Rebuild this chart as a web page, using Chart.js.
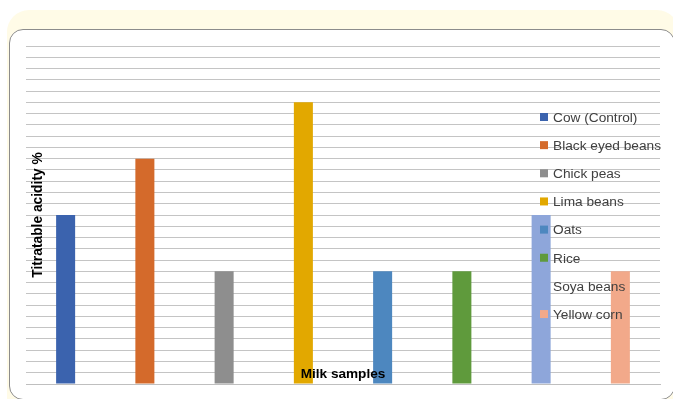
<!DOCTYPE html>
<html>
<head>
<meta charset="utf-8">
<script src="https://cdn.jsdelivr.net/npm/chart.js@4/dist/chart.umd.min.js"></script>
<style>
  html, body { margin: 0; padding: 0; background: #ffffff; width: 673px; height: 399px; overflow: hidden; }
  #cream { position: absolute; left: 7px; top: 10px; width: 672px; height: 420px; background: #fffbe7; border-radius: 22px; }
  #frame { position: absolute; left: 9px; top: 29px; width: 664px; height: 369px; background: #ffffff; border: 1px solid #8c8c8c; border-radius: 14px; }
  #wrap { position: absolute; left: 0; top: 0; width: 673px; height: 399px; }
</style>
</head>
<body>
<div id="cream"></div>
<div id="frame"></div>
<div id="wrap"><canvas id="c" width="673" height="399"></canvas></div>
<script>
const categories = ['Cow (Control)', 'Black eyed beans', 'Chick peas', 'Lima beans', 'Oats', 'Rice', 'Soya beans', 'Yellow corn'];
const acidity = [0.15, 0.20, 0.10, 0.25, 0.10, 0.10, 0.15, 0.10];
const barColors = ['#3b63ae', '#d46a2b', '#8e8e8e', '#e2a800', '#4d87bf', '#5f9a3c', '#8ea6da', '#f2a98a'];
const legendSwatch = [true, true, true, true, true, true, false, true];
const yMin = 0;
const yMax = 0.30;
const yStep = 0.01;
const xTitle = 'Milk samples';
const yTitle = 'Titratable acidity %';

const overlay = {
  id: 'overlay',
  afterDatasetsDraw(chart) {
    const ctx = chart.ctx;
    const a = chart.chartArea;
    ctx.save();
    // y title
    ctx.fillStyle = '#000000';
    ctx.font = 'bold 13.8px "Liberation Sans", Arial, sans-serif';
    ctx.textAlign = 'center';
    ctx.textBaseline = 'middle';
    ctx.translate(a.left + 12, 215);
    ctx.rotate(-Math.PI / 2);
    ctx.fillText(yTitle, 0, 0);
    ctx.restore();
    ctx.save();
    ctx.fillStyle = '#000000';
    ctx.font = 'bold 13.6px "Liberation Sans", Arial, sans-serif';
    ctx.textAlign = 'center';
    ctx.textBaseline = 'middle';
    ctx.fillText(xTitle, 343, 374);
    // legend
    ctx.font = '13.7px "Liberation Sans", Arial, sans-serif';
    ctx.textAlign = 'left';
    for (let i = 0; i < categories.length; i++) {
      const y = 117 + i * 28.15;
      if (legendSwatch[i]) {
        ctx.fillStyle = barColors[i];
        ctx.fillRect(540, y - 4, 8, 8);
      }
      ctx.fillStyle = '#404040';
      ctx.fillText(categories[i], 553, y + 1);
    }
    ctx.restore();
  }
};

new Chart(document.getElementById('c'), {
  type: 'bar',
  data: {
    labels: categories,
    datasets: [{
      label: yTitle,
      data: acidity,
      backgroundColor: barColors,
      borderWidth: 0,
      categoryPercentage: 1,
      barPercentage: 0.24
    }]
  },
  options: {
    responsive: false,
    animation: false,
    events: [],
    layout: { padding: { left: 26, right: 13, top: 46, bottom: 15 } },
    plugins: { legend: { display: false }, tooltip: { enabled: false }, title: { display: false } },
    scales: {
      x: {
        ticks: { display: false },
        grid: { display: false, drawTicks: false },
        border: { display: true, color: '#bfbfbf', width: 1 }
      },
      y: {
        min: yMin,
        max: yMax,
        ticks: { display: false, stepSize: yStep },
        grid: { color: '#c4c4c4', lineWidth: 1, drawTicks: false },
        border: { display: false }
      }
    }
  },
  plugins: [overlay]
});
</script>
</body>
</html>
